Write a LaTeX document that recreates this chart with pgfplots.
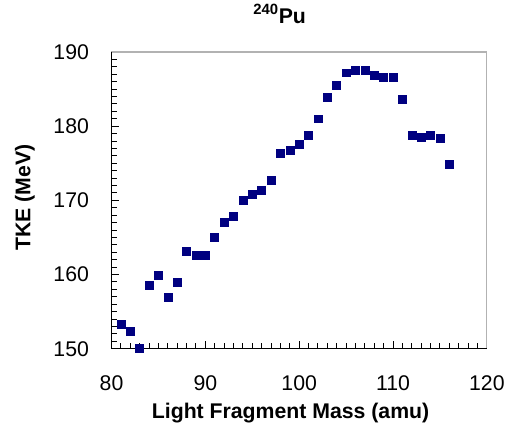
\documentclass[border=0pt]{standalone}
\usepackage{pgfplots}
\pgfplotsset{compat=1.18}
\usepackage{fontspec}
\setmainfont{Liberation Sans}
\definecolor{navy}{RGB}{0,0,128}
\begin{document}
\begin{tikzpicture}
\begin{axis}[
  name=ax,
  scale only axis,
  width=282.75pt, height=223.5pt,
  xmin=80, xmax=120, ymin=150, ymax=190,
  xtick={80,90,...,120}, ytick={150,160,...,190},
  minor x tick num=9, minor y tick num=9,
  xtick pos=bottom, ytick pos=left,
  tick align=inside,
  major tick length=6pt, minor tick length=4.5pt,
  every tick/.style={black, line width=0.75pt},
  axis line style={gray!60, line width=0.9pt},
  /pgf/number format/assume math mode=true,
  tick label style={font=\fontsize{16}{19}\selectfont},
  xticklabel style={yshift=-17pt},
  yticklabel style={xshift=-13.5pt},
  xlabel={\textbf{Light Fragment Mass (amu)}},
  ylabel={\textbf{TKE (MeV)}},
  label style={font=\fontsize{16}{19}\selectfont},
  xlabel style={at={(axis description cs:0.477,0)}, anchor=base, yshift=-52.5pt},
  ylabel style={at={(axis description cs:0,0.51)}, anchor=center, yshift=65.25pt},
  title={\textsuperscript{\textbf{240}}\textbf{Pu}},
  title style={font=\fontsize{16}{19}\selectfont, at={(axis description cs:0.448,1)}, anchor=base, yshift=15.75pt},
  clip=false,
]
\addplot[only marks, mark=square*, mark size=3pt, mark options={fill=navy, draw=navy}] coordinates {
(81,153.3) (82,152.4) (83,150.0) (84,158.5) (85,159.9) (86,156.9) (87,159.0)
(88,163.1) (89,162.6) (90,162.6) (91,165.0) (92,167.1) (93,167.9) (94,170.0)
(95,170.8) (96,171.4) (97,172.7) (98,176.4) (99,176.7) (100,177.6) (101,178.8)
(102,181.0) (103,183.9) (104,185.5) (105,187.2) (106,187.5) (107,187.5) (108,186.9)
(109,186.6) (110,186.6) (111,183.6) (112,178.8) (113,178.5) (114,178.8) (115,178.4)
(116,174.9)
};
\draw[black, line width=0.9pt] (rel axis cs:0,1) -- (rel axis cs:0,0) -- (rel axis cs:1,0);
\end{axis}
\path (ax.south west) ++(-84pt,-63pt) coordinate (bba);
\path (ax.north east) ++(15pt,36.75pt) coordinate (bbb);
\path (bba) rectangle (bbb);
\end{tikzpicture}
\end{document}
